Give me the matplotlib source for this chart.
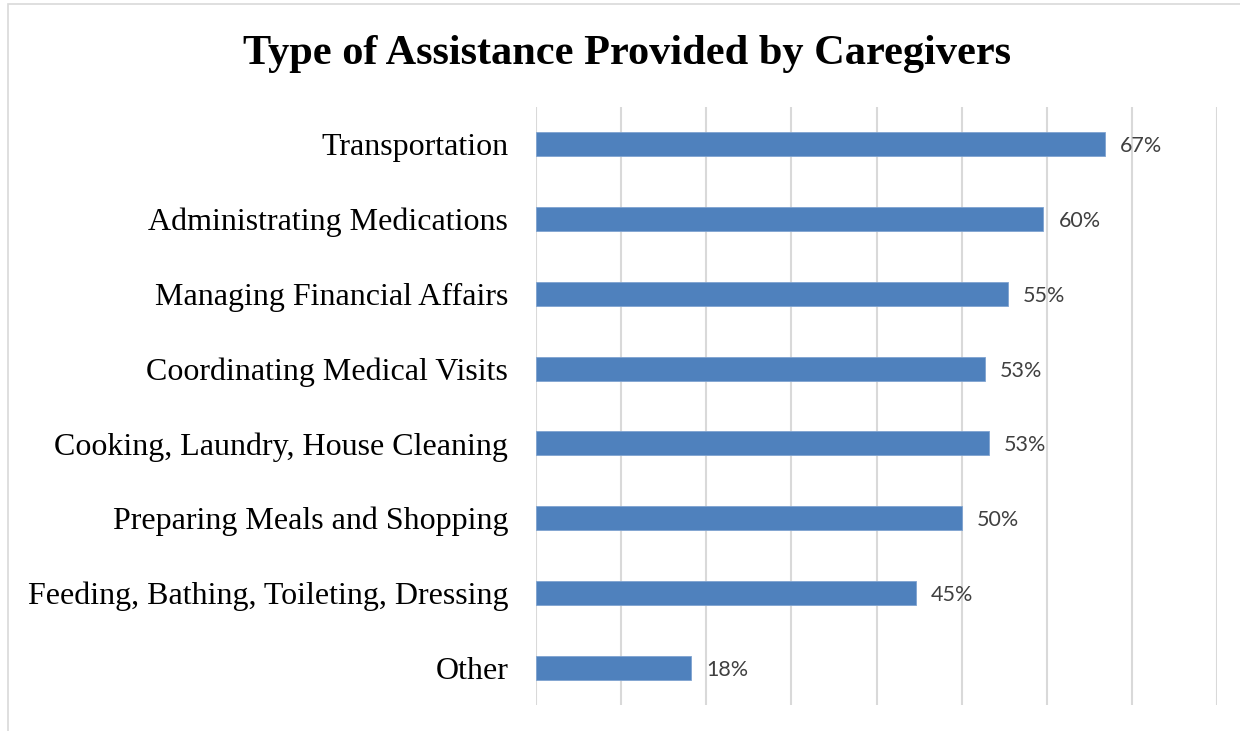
import matplotlib
matplotlib.use("Agg")
import matplotlib.pyplot as plt
from matplotlib.patches import Rectangle

categories = [
    "Transportation",
    "Administrating Medications",
    "Managing Financial Affairs",
    "Coordinating Medical Visits",
    "Cooking, Laundry, House Cleaning",
    "Preparing Meals and Shopping",
    "Feeding, Bathing, Toileting, Dressing",
    "Other",
]
values = [66.8, 59.6, 55.4, 52.7, 53.2, 50.0, 44.6, 18.2]
value_labels = ["67%", "60%", "55%", "53%", "53%", "50%", "45%", "18%"]
x_ticks = [0, 10, 20, 30, 40, 50, 60, 70, 80]
title = "Type of Assistance Provided by Caregivers"

W, H = 1240, 731
fig = plt.figure(figsize=(W / 100, H / 100), dpi=100)
fig.patch.set_facecolor("white")

# outer chart border
fig.add_artist(Rectangle((8 / W, -0.01), 1.5, 1 - 4 / H + 0.01, transform=fig.transFigure,
                         fill=False, edgecolor="#D9D9D9", linewidth=1.2))

left, right, top, bottom = 536, 1217, 107, 705
ax = fig.add_axes([left / W, 1 - bottom / H, (right - left) / W, (bottom - top) / H])

ypos = list(range(len(categories)))
ax.barh(ypos, values, height=0.32, color="#4F81BD", edgecolor="#7FA3D0", linewidth=0.6, zorder=3)
ax.set_ylim(len(categories) - 0.5, -0.5)
ax.set_xlim(x_ticks[0], x_ticks[-1])
ax.set_xticks(x_ticks)
ax.xaxis.grid(True, color="#D9D9D9", linewidth=1.5, zorder=0)
ax.tick_params(axis="x", length=0, labelbottom=False)
ax.tick_params(axis="y", length=0, pad=20)
ax.set_yticks(ypos)
ax.set_yticklabels(categories, fontfamily="Liberation Serif", fontsize=23, color="black")
for s in ax.spines.values():
    s.set_visible(False)

for y, v, lab in zip(ypos, values, value_labels):
    ax.annotate(lab, (v, y), xytext=(11, -1.5), textcoords="offset points",
                va="center", ha="left", fontsize=15.5, color="#404040", fontfamily="Lato")

fig.text(627 / W, 1 - 54 / H, title, ha="center", va="center",
         fontfamily="Liberation Serif", fontweight="bold", fontsize=30.5, color="black")

fig.savefig("out.png", dpi=100)
